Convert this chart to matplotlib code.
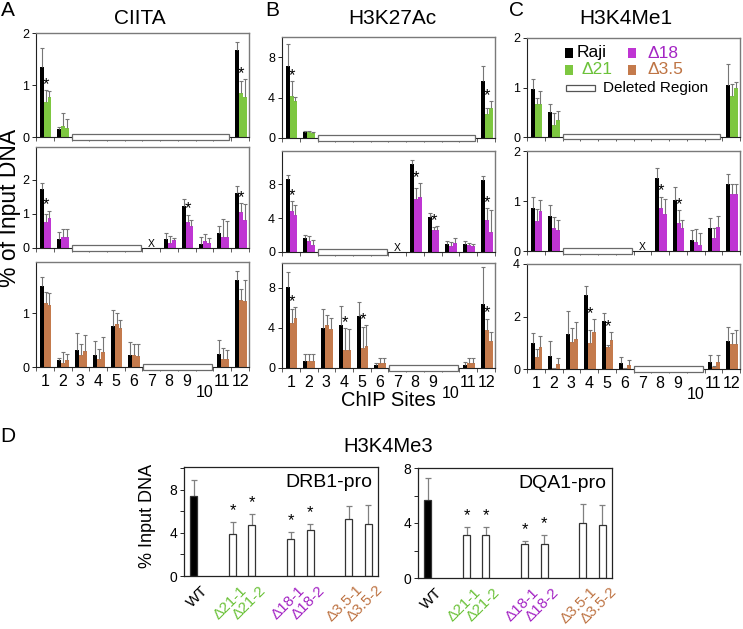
"""Histone marks at ChIP sites in deletion clones (CIITA, H3K27Ac, H3K4Me1, H3K4Me3)."""

import matplotlib.pyplot as plt
import numpy as np
from matplotlib.patches import Rectangle
from matplotlib.transforms import blended_transform_factory, ScaledTranslation

plt.rcParams['font.family'] = ['Liberation Sans', 'DejaVu Sans']

W, H = 743, 629
nan = np.nan

sites = ['1', '2', '3', '4', '5', '6', '7', '8', '9', '10', '11', '12']

# deleted sites per clone (first, last) and sites with no data
deleted_d21 = (3, 11)
deleted_d18 = (3, 6)
missing_d18 = [7]
deleted_d35 = (7, 10)

# --- CIITA ---
ciita_d21 = [[1.34, 0.16, nan, nan, nan, nan, nan, nan, nan, nan, nan, 1.67],
             [0.68, 0.22, nan, nan, nan, nan, nan, nan, nan, nan, nan, 0.85],
             [0.76, 0.18, nan, nan, nan, nan, nan, nan, nan, nan, nan, 0.76]]
ciita_d21_sd = [[0.38, 0.04, nan, nan, nan, nan, nan, nan, nan, nan, nan, 0.15],
                [0.22, 0.24, nan, nan, nan, nan, nan, nan, nan, nan, nan, 0.23],
                [0.12, 0.16, nan, nan, nan, nan, nan, nan, nan, nan, nan, 0.36]]
ciita_d21_stars = [1, 12]

ciita_d18 = [[1.74, 0.26, nan, nan, nan, nan, nan, 0.26, 1.24, 0.12, 0.43, 1.63],
             [0.77, 0.33, nan, nan, nan, nan, nan, 0.15, 0.77, 0.22, 0.33, 1.07],
             [0.87, 0.33, nan, nan, nan, nan, nan, 0.24, 0.66, 0.14, 0.33, 0.82]]
ciita_d18_sd = [[0.16, 0.20, nan, nan, nan, nan, nan, 0.19, 0.19, 0.20, 0.21, 0.19],
                [0.23, 0.22, nan, nan, nan, nan, nan, 0.20, 0.21, 0.18, 0.51, 0.26],
                [0.23, 0.22, nan, nan, nan, nan, nan, 0.04, 0.16, 0.14, 0.47, 0.48]]
ciita_d18_stars = [1, 9, 12]

ciita_d35 = [[1.50, 0.13, 0.31, 0.23, 0.77, 0.23, nan, nan, nan, nan, 0.25, 1.62],
             [1.19, 0.07, 0.23, 0.14, 0.79, 0.23, nan, nan, nan, nan, 0.15, 1.25],
             [1.15, 0.13, 0.30, 0.28, 0.72, 0.21, nan, nan, nan, nan, 0.15, 1.22]]
ciita_d35_sd = [[0.17, 0.04, 0.32, 0.25, 0.29, 0.24, nan, nan, nan, nan, 0.25, 0.16],
                [0.21, 0.21, 0.19, 0.19, 0.21, 0.20, nan, nan, nan, nan, 0.21, 0.20],
                [0.23, 0.11, 0.30, 0.28, 0.16, 0.22, nan, nan, nan, nan, 0.17, 0.40]]
ciita_d35_stars = []

# --- H3K27Ac ---
k27_d21 = [[7.1, 0.56, nan, nan, nan, nan, nan, nan, nan, nan, nan, 5.6],
           [4.2, 0.55, nan, nan, nan, nan, nan, nan, nan, nan, nan, 2.4],
           [3.7, 0.46, nan, nan, nan, nan, nan, nan, nan, nan, nan, 2.95]]
k27_d21_sd = [[2.2, 0.10, nan, nan, nan, nan, nan, nan, nan, nan, nan, 1.55],
              [1.4, 0.12, nan, nan, nan, nan, nan, nan, nan, nan, nan, 0.6],
              [0.4, 0.10, nan, nan, nan, nan, nan, nan, nan, nan, nan, 0.7]]
k27_d21_stars = [1, 12]

k27_d18 = [[8.6, 1.6, nan, nan, nan, nan, nan, 10.4, 4.15, 0.9, 0.9, 8.5],
           [4.8, 1.35, nan, nan, nan, nan, nan, 6.3, 2.6, 0.65, 0.8, 3.8],
           [4.35, 0.85, nan, nan, nan, nan, nan, 6.5, 2.6, 1.05, 0.65, 2.3]]
k27_d18_sd = [[0.45, 0.4, nan, nan, nan, nan, nan, 0.4, 0.45, 0.4, 0.4, 0.4],
              [1.2, 0.5, nan, nan, nan, nan, nan, 1.2, 0.4, 0.55, 0.3, 1.4],
              [1.15, 0.6, nan, nan, nan, nan, nan, 1.6, 0.5, 0.55, 0.3, 2.7]]
k27_d18_stars = [1, 8, 9, 12]

k27_d35 = [[8.1, 0.7, 4.0, 4.3, 5.2, 0.3, nan, nan, nan, nan, 0.35, 6.4],
           [4.5, 0.7, 4.3, 1.8, 2.0, 0.5, nan, nan, nan, nan, 0.5, 3.8],
           [5.0, 0.7, 3.9, 1.8, 2.2, 0.5, nan, nan, nan, nan, 0.5, 2.7]]
k27_d35_sd = [[1.5, 0.75, 1.9, 1.9, 1.4, 0.2, nan, nan, nan, nan, 0.3, 3.7],
              [1.4, 0.7, 1.0, 2.2, 2.1, 0.5, nan, nan, nan, nan, 0.55, 1.15],
              [1.1, 0.7, 1.1, 2.1, 2.1, 0.5, nan, nan, nan, nan, 0.55, 0.9]]
k27_d35_stars = [1, 4, 5, 12]

# --- H3K4Me1 ---
me1_d21 = [[0.97, 0.50, nan, nan, nan, nan, nan, nan, nan, nan, nan, 1.05],
           [0.67, 0.24, nan, nan, nan, nan, nan, nan, nan, nan, nan, 0.83],
           [0.67, 0.35, nan, nan, nan, nan, nan, nan, nan, nan, nan, 0.98]]
me1_d21_sd = [[0.20, 0.17, nan, nan, nan, nan, nan, nan, nan, nan, nan, 0.42],
              [0.11, 0.24, nan, nan, nan, nan, nan, nan, nan, nan, nan, 0.24],
              [0.25, 0.17, nan, nan, nan, nan, nan, nan, nan, nan, nan, 0.14]]
me1_d21_stars = []

me1_d18 = [[0.86, 0.71, nan, nan, nan, nan, nan, 1.46, 1.03, 0.22, 0.46, 1.34],
           [0.60, 0.47, nan, nan, nan, nan, nan, 0.86, 0.57, 0.19, 0.26, 1.14],
           [0.80, 0.42, nan, nan, nan, nan, nan, 0.75, 0.46, 0.12, 0.48, 1.15]]
me1_d18_sd = [[0.22, 0.21, nan, nan, nan, nan, nan, 0.21, 0.25, 0.21, 0.20, 0.21],
              [0.24, 0.21, nan, nan, nan, nan, nan, 0.23, 0.25, 0.26, 0.21, 0.21],
              [0.22, 0.21, nan, nan, nan, nan, nan, 0.30, 0.16, 0.25, 0.22, 0.20]]
me1_d18_stars = [8, 9]

me1_d35 = [[0.99, 0.51, 1.34, 2.82, 1.84, 0.22, nan, nan, nan, nan, 0.25, 1.05],
           [0.45, 0.02, 1.01, 0.99, 0.82, 0.05, nan, nan, nan, nan, 0.07, 0.97],
           [0.82, 0.20, 1.14, 1.41, 1.12, 0.16, nan, nan, nan, nan, 0.26, 0.97]]
me1_d35_sd = [[0.39, 0.54, 0.88, 0.36, 0.29, 0.23, nan, nan, nan, nan, 0.30, 0.55],
              [0.30, 0.00, 0.56, 0.51, 0.09, 0.00, nan, nan, nan, nan, 0.05, 0.41],
              [0.42, 0.22, 0.66, 0.48, 0.29, 0.17, nan, nan, nan, nan, 0.27, 0.50]]
me1_d35_stars = [4, 5]

# --- H3K4Me3 (panel D) ---
clones = ['WT', 'Δ21-1', 'Δ21-2', 'Δ18-1', 'Δ18-2', 'Δ3.5-1', 'Δ3.5-2']
clone_group = [0, 1, 1, 2, 2, 3, 3]
drb1 = [7.45, 3.87, 4.75, 3.44, 4.28, 5.28, 4.8]
drb1_sd = [1.45, 1.13, 1.0, 0.62, 0.52, 1.19, 1.8]
dqa1 = [5.65, 3.15, 3.15, 2.5, 2.45, 4.0, 3.83]
dqa1_sd = [1.65, 0.55, 0.55, 0.2, 0.7, 1.35, 1.45]
d_stars = [1, 2, 3, 4]

black = 'black'
green = '#7DC740'
magenta = '#BF35D3'
brown = '#C47A4C'
green_txt = '#6CC23A'
magenta_txt = '#A425C4'
brown_txt = '#BE7444'
group_txt = [black, green_txt, magenta_txt, brown_txt]


def fig_axes(fig, left, top, right, bottom):
    return fig.add_axes([left / W, 1 - bottom / H, (right - left) / W, (bottom - top) / H])


def px(x, y):
    return x / W, 1 - y / H


def frame(ax):
    for side in ['top', 'right']:
        ax.spines[side].set_color('#7a7a7a')
        ax.spines[side].set_linewidth(1.0)
    for side in ['left', 'bottom']:
        ax.spines[side].set_color('#222222')
        ax.spines[side].set_linewidth(0.8)


def site_row(ax, means, sds, colors, deleted, missing, stars, ylim, yticks, labels):
    x = np.arange(1, 13)
    w = 0.22
    for k, (m, s, c) in enumerate(zip(means, sds, colors)):
        xs = x + (k - 1) * w + 0.04
        m = np.array(m, float)
        s = np.array(s, float)
        ax.bar(xs, np.nan_to_num(m), w, color=c, zorder=2)
        eb = ax.errorbar(xs, m, yerr=[np.zeros_like(s), s], fmt='none', ecolor='#767676',
                         elinewidth=0.8, capsize=1.4, capthick=0.8, zorder=3)
        eb[1][0].set_visible(False)
    for site in stars:
        i = site - 1
        top = max(means[1][i] + sds[1][i], means[2][i] + sds[2][i])
        ax.annotate('*', (x[i] + 0.04, top), xytext=(0, 4), textcoords='offset points',
                    ha='center', va='center', fontsize=12)
    tr = blended_transform_factory(ax.transData, ax.transAxes)
    ax.add_patch(Rectangle((deleted[0] - 0.45, -0.025), deleted[1] - deleted[0] + 0.85, 0.055,
                           transform=tr, facecolor='white', edgecolor='#6a6a6a',
                           lw=0.9, clip_on=False, zorder=5))
    for site in missing:
        ax.annotate('X', (site, 0), xytext=(0, 1), textcoords='offset points',
                    ha='center', va='baseline', fontsize=7.5)
    ax.set_xlim(0.5, 12.5)
    ax.set_ylim(*ylim)
    ax.set_yticks(yticks)
    ax.set_xticks(np.arange(0.5, 13, 1))
    ax.set_xticklabels([])
    ax.tick_params(axis='x', direction='out', length=3, width=0.6, color='#444')
    ax.tick_params(axis='y', direction='out', length=3, width=0.6, labelsize=9, pad=2)
    frame(ax)
    if labels:
        for xi, lbl in zip(x, sites):
            drop = -13 if lbl == '10' else -5
            ax.annotate(lbl, (xi, 0), xycoords=('data', 'axes fraction'), xytext=(0, drop),
                        textcoords='offset points', ha='center', va='top', fontsize=11.5)


fig = plt.figure(figsize=(W / 100, H / 100), dpi=100)

columns = [
    (36, 249, [(33, 137), (147, 248), (262, 367)]),
    (282, 495, [(37, 138), (151, 252), (263, 368)]),
    (527, 740, [(38, 137), (151, 251), (264, 369)]),
]
panels = [
    [(ciita_d21, ciita_d21_sd, green, deleted_d21, [], ciita_d21_stars, (0, 2), [0, 1, 2]),
     (ciita_d18, ciita_d18_sd, magenta, deleted_d18, missing_d18, ciita_d18_stars, (0, 2.97), [0, 1, 2]),
     (ciita_d35, ciita_d35_sd, brown, deleted_d35, [], ciita_d35_stars, (0, 1.95), [0, 1])],
    [(k27_d21, k27_d21_sd, green, deleted_d21, [], k27_d21_stars, (0, 10), [0, 4, 8]),
     (k27_d18, k27_d18_sd, magenta, deleted_d18, missing_d18, k27_d18_stars, (0, 11.9), [0, 4, 8]),
     (k27_d35, k27_d35_sd, brown, deleted_d35, [], k27_d35_stars, (0, 10.5), [0, 4, 8])],
    [(me1_d21, me1_d21_sd, green, deleted_d21, [], me1_d21_stars, (0, 2), [0, 1, 2]),
     (me1_d18, me1_d18_sd, magenta, deleted_d18, missing_d18, me1_d18_stars, (0, 2), [0, 1, 2]),
     (me1_d35, me1_d35_sd, brown, deleted_d35, [], me1_d35_stars, (0, 4), [0, 2, 4])],
]

for (left, right, rows), col in zip(columns, panels):
    for r, ((top, bottom), spec) in enumerate(zip(rows, col)):
        means, sds, c, dele, miss, stars, ylim, yt = spec
        ax = fig_axes(fig, left, top, right, bottom)
        site_row(ax, means, sds, [black, c, c], dele, miss, stars, ylim, yt, labels=(r == 2))

# titles and panel letters
for letter, lx, title, tx in [('A', 8, 'CIITA', 140), ('B', 272, 'H3K27Ac', 392),
                              ('C', 517, 'H3K4Me1', 626)]:
    fig.text(*px(lx, 11), letter, fontsize=15, ha='center', va='center')
    fig.text(*px(tx, 18), title, fontsize=15, ha='center', va='center')
fig.text(*px(10, 208), '% of Input DNA', fontsize=16.5, rotation=90, ha='center', va='center')
fig.text(*px(388, 401), 'ChIP Sites', fontsize=14.5, ha='center', va='center')

# legend inside H3K4Me1 top panel
legend_items = [(569, 53, black, 'Raji', black, 577), (632, 53, magenta, 'Δ18', magenta_txt, 647),
                (569, 70, green, 'Δ21', green_txt, 581), (632, 70, brown, 'Δ3.5', brown_txt, 647)]
for sx, sy, fc, txt, tc, txx in legend_items:
    x0, y0 = px(sx - 4, sy + 5)
    fig.add_artist(Rectangle((x0, y0), 8 / W, 10 / H, transform=fig.transFigure,
                             facecolor=fc, edgecolor='none'))
    fig.text(*px(txx, sy), txt, color=tc, fontsize=12.5, ha='left', va='center')
x0, y0 = px(566, 91)
fig.add_artist(Rectangle((x0, y0), 29 / W, 6 / H, transform=fig.transFigure,
                         facecolor='white', edgecolor='#555', lw=0.9))
fig.text(*px(603, 88), 'Deleted Region', fontsize=11, ha='left', va='center')

# panel D
fig.text(*px(8, 437), 'D', fontsize=15, ha='center', va='center')
fig.text(*px(388, 447), 'H3K4Me3', fontsize=14.5, ha='center', va='center')
fig.text(*px(147, 516), '% Input DNA', fontsize=13, rotation=90, ha='center', va='center')

pos = np.array([0 if g == 0 else 3 * g - 1 + (i + 1) % 2 for i, g in enumerate(clone_group)])
for (left, top, right, bottom), vals, sd, name, ylim, minor in [
        ((184, 467, 378, 576), drb1, drb1_sd, 'DRB1-pro', (0, 10.1), [2, 6, 10]),
        ((418, 468, 612, 578), dqa1, dqa1_sd, 'DQA1-pro', (0, 8), [2, 6])]:
    ax = fig_axes(fig, left, top, right, bottom)
    ax.bar(pos, vals, 0.36, color=['black'] + ['white'] * 6, edgecolor='#333', lw=0.9, zorder=2)
    eb = ax.errorbar(pos, vals, yerr=[np.zeros(len(sd)), sd], fmt='none', ecolor='#808080',
                     elinewidth=0.9, capsize=2.5, capthick=0.9, zorder=1)
    eb[1][0].set_visible(False)
    for i in d_stars:
        ax.annotate('*', (pos[i], vals[i] + sd[i]), xytext=(0, 8), textcoords='offset points',
                    ha='center', va='center', fontsize=12)
    ax.set_xlim(-0.5, 9.5)
    ax.set_ylim(*ylim)
    ax.set_yticks([0, 4, 8])
    ax.set_yticks(minor, minor=True)
    ax.tick_params(axis='y', which='both', direction='out', length=3, width=0.6, labelsize=10, pad=2)
    ax.set_xticks(pos)
    ax.set_xticklabels(clones, rotation=45, ha='right', rotation_mode='anchor', fontsize=11)
    ax.tick_params(axis='x', length=0, pad=5)
    shift = ScaledTranslation(5 / 72, 0, fig.dpi_scale_trans)
    for lbl, g in zip(ax.get_xticklabels(), clone_group):
        lbl.set_color(group_txt[g])
        lbl.set_transform(lbl.get_transform() + shift)
    for side in ax.spines.values():
        side.set_color('#222')
        side.set_linewidth(0.9)
    ax.text(0.97, 0.86, name, transform=ax.transAxes, ha='right', va='center', fontsize=14)

fig.savefig('out.png', dpi=100)
